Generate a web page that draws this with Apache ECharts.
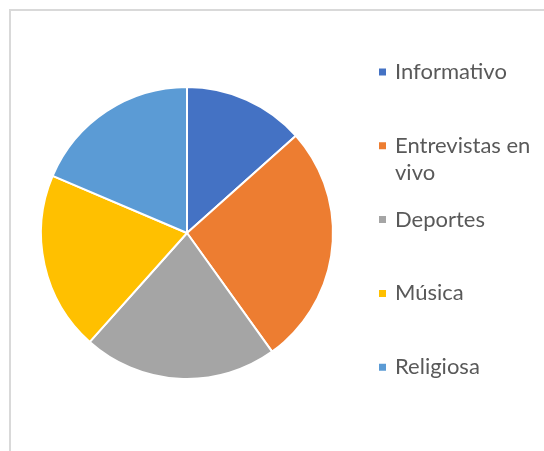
<!DOCTYPE html>
<html>
<head>
<meta charset="utf-8">
<script src="https://cdn.jsdelivr.net/npm/echarts@6/dist/echarts.min.js"></script>
<style>
  html, body { margin: 0; padding: 0; background: #fff; }
  #chart { position: absolute; left: 0; top: 0; width: 544px; height: 451px; }
  #frame { position: absolute; left: 9px; top: 9px; width: 600px; height: 500px;
           border-left: 2px solid #d9d9d9; border-top: 2px solid #d9d9d9; }
</style>
</head>
<body>
<div id="frame"></div>
<div id="chart"></div>
<script>
// Programme types and their share of the audience (%)
const categories = ['Informativo', 'Entrevistas en vivo', 'Deportes', 'Música', 'Religiosa'];
const shares = [13.4, 26.7, 21.5, 19.8, 18.6];
const colors = ['#4472C4', '#ED7D31', '#A5A5A5', '#FFC000', '#5B9BD5'];

const chart = echarts.init(document.getElementById('chart'), null, { renderer: 'canvas' });

const FONT = 'Lato';
const FONT_SIZE = 22;
const LINE_H = 27;
const legendTop0 = 72;     // vertical centre of the first legend entry
const legendStep = 73.8;   // distance between entries
const MARK = 9;            // legend marker size

// Square marker that sits level with the first line of a two-line label:
// the zero-area point below stretches the icon box without being drawn.
const firstLineIcon = 'path://M0,0L9,0L9,9L0,9Z M0,36L0.001,36Z';

// One legend per entry so that every entry sits on an even grid,
// and the wrapped label keeps its first line next to the marker.
const legends = categories.map((name, i) => {
  const wrapped = name === 'Entrevistas en vivo';
  return {
    orient: 'vertical',
    left: 377,
    top: legendTop0 + i * legendStep - LINE_H / 2,
    padding: 0,
    itemWidth: MARK,
    itemHeight: wrapped ? 36 : MARK,
    icon: wrapped ? firstLineIcon : 'rect',
    data: [name],
    selectedMode: false,
    formatter: n => wrapped ? 'Entrevistas en\nvivo' : n,
    textStyle: {
      fontFamily: FONT,
      fontSize: FONT_SIZE,
      color: '#595959',
      lineHeight: LINE_H,
      padding: [0, 0, 0, 3]
    }
  };
});

chart.setOption({
  animation: false,
  color: colors,
  legend: legends,
  series: [{
    type: 'pie',
    center: [187, 233],
    radius: 146,
    startAngle: 90,
    clockwise: true,
    label: { show: false },
    labelLine: { show: false },
    emphasis: { disabled: true },
    itemStyle: { borderColor: '#ffffff', borderWidth: 2 },
    data: categories.map((name, i) => ({ name, value: shares[i] }))
  }]
});
</script>
</body>
</html>
